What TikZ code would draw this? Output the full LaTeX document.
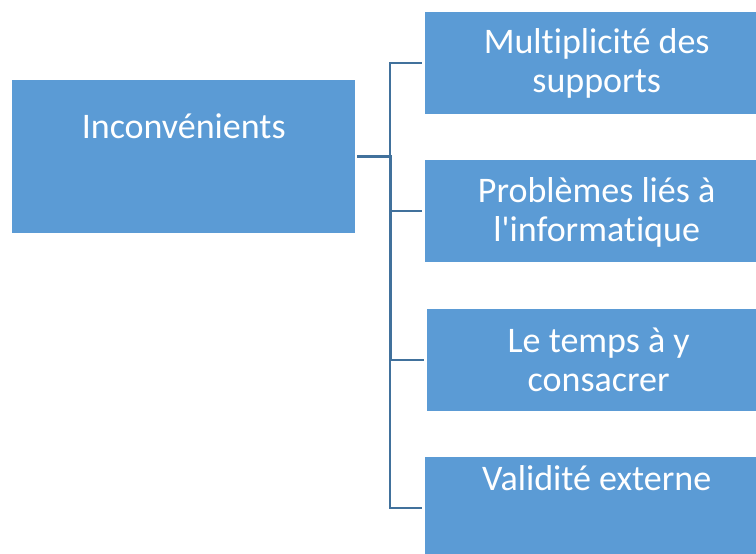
\documentclass[tikz,border=0pt]{standalone}
\usepackage{fontspec}
\setmainfont{Carlito}[Ligatures={TeXOff,CommonOff}]
\usetikzlibrary{calc}
\definecolor{boxblue}{HTML}{5B9BD5}
\definecolor{lineblue}{HTML}{41719C}
\tikzset{
	box/.style={fill=boxblue, draw=none, inner sep=0pt, minimum width=343pt, minimum height=102pt, anchor=north west},
	lbl/.style={text=white, font=\fontsize{36}{39}\selectfont, align=center, inner sep=0pt, anchor=base},
	conn/.style={draw=lineblue, line width=2.5pt, shorten <=2pt, shorten >=3pt}
}
\begin{document}
\begin{tikzpicture}[x=1pt,y=-1pt]
	\useasboundingbox (0,0) rectangle (756,554);
	\clip (0,0) rectangle (756,554);
	% boxes
	\node[box, minimum height=153pt] (root) at (12,80) {};
	\node[box] (c1) at (425,12) {};
	\node[box] (c2) at (425,160) {};
	\node[box] (c3) at (427,309) {};
	\node[box] (c4) at (425,457) {};
	% texts (base = last line)
	\node[lbl] (rootlbl) at ($(root.north)+(0,58)$) {Inconvénients};
	\node[lbl] (c1lbl) at ($(c1.north)+(0,80)$) {Multiplicité des\\supports};
	\node[lbl] (c2lbl) at ($(c2.north)+(0,81)$) {Problèmes liés à\\l'informatique};
	\node[lbl] (c3lbl) at ($(c3.north)+(0,82)$) {Le temps à y\\consacrer};
	\node[lbl] (c4lbl) at ($(c4.north)+(0,33)$) {Validité externe};
	% connectors
	\foreach \c in {c1,c2,c3,c4}
		\draw[conn] (root.east) -| ($(root.east)!.5!(\c.west)$) |- (\c.west);
\end{tikzpicture}
\end{document}
